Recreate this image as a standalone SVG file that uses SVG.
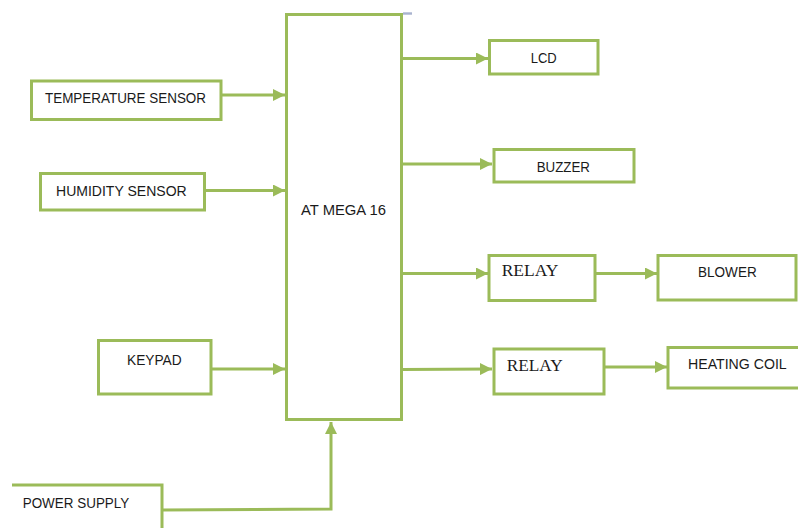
<svg xmlns="http://www.w3.org/2000/svg" width="798" height="528" viewBox="0 0 798 528">
<defs>
<style>
.box{fill:#ffffff;stroke:#9bbb59;stroke-width:3}
.ln{fill:none;stroke:#9bbb59;stroke-width:3}
.t{font-family:"Liberation Sans",Arial,sans-serif;font-size:14px;fill:#1a1a1a}
.s{font-family:"Liberation Serif","Times New Roman",serif;font-size:17px;fill:#1a1a1a}
</style>
<marker id="ah" markerUnits="userSpaceOnUse" markerWidth="12" markerHeight="12" viewBox="0 0 12 12" refX="12" refY="6" orient="auto">
<path d="M0,0 L12,6 L0,12 Z" fill="#9bbb59"/>
</marker>
</defs>
<rect width="798" height="528" fill="#ffffff"/>
<g id="connectors">
<line class="ln" x1="221" y1="95" x2="285" y2="95" marker-end="url(#ah)"/>
<line class="ln" x1="204" y1="190.5" x2="285" y2="190.5" marker-end="url(#ah)"/>
<line class="ln" x1="211" y1="369" x2="285" y2="369" marker-end="url(#ah)"/>
<polyline class="ln" points="162,510 331,509 331,422" marker-end="url(#ah)"/>
<line class="ln" x1="402" y1="58.5" x2="488" y2="58.5" marker-end="url(#ah)"/>
<line class="ln" x1="402" y1="164" x2="492" y2="164" marker-end="url(#ah)"/>
<line class="ln" x1="402" y1="273.5" x2="488" y2="273.5" marker-end="url(#ah)"/>
<line class="ln" x1="402" y1="369.5" x2="492" y2="369" marker-end="url(#ah)"/>
<line class="ln" x1="595" y1="273.5" x2="657" y2="273.5" marker-end="url(#ah)"/>
<line class="ln" x1="604" y1="367" x2="667" y2="367" marker-end="url(#ah)"/>
</g>
<g id="atmega">
<rect class="box" x="286.5" y="14.5" width="115" height="405"/>
<rect x="403" y="12.3" width="9" height="2.4" fill="#a9b3cf"/>
<text class="t" x="301" y="215" textLength="85" lengthAdjust="spacingAndGlyphs">AT MEGA 16</text>
</g>
<g id="temperature">
<rect class="box" x="31.5" y="81" width="189.5" height="38.5"/>
<text class="t" x="45" y="103" textLength="161" lengthAdjust="spacingAndGlyphs">TEMPERATURE SENSOR</text>
</g>
<g id="humidity">
<rect class="box" x="40.5" y="173.5" width="164" height="36.5"/>
<text class="t" x="56" y="196" textLength="130.7" lengthAdjust="spacingAndGlyphs">HUMIDITY SENSOR</text>
</g>
<g id="keypad">
<rect class="box" x="98.5" y="340.5" width="112.5" height="53.5"/>
<text class="t" x="127" y="365" textLength="54.7" lengthAdjust="spacingAndGlyphs">KEYPAD</text>
</g>
<g id="power">
<polyline class="ln" points="12,485 162,485 162,528"/>
<text class="t" x="22.7" y="508" textLength="106.6" lengthAdjust="spacingAndGlyphs">POWER SUPPLY</text>
</g>
<g id="lcd">
<rect class="box" x="489.5" y="40.5" width="108.5" height="33.5"/>
<text class="t" x="530.7" y="63" textLength="26" lengthAdjust="spacingAndGlyphs">LCD</text>
</g>
<g id="buzzer">
<rect class="box" x="494" y="149.5" width="140" height="32.5"/>
<text class="t" x="536.7" y="171.5" textLength="53.3" lengthAdjust="spacingAndGlyphs">BUZZER</text>
</g>
<g id="relay1">
<rect class="box" x="489" y="255.5" width="106" height="45"/>
<text class="s" x="501.7" y="276" textLength="56.6" lengthAdjust="spacingAndGlyphs">RELAY</text>
</g>
<g id="blower">
<rect class="box" x="658" y="255.5" width="138" height="44.5"/>
<text class="t" x="698" y="277" textLength="58.7" lengthAdjust="spacingAndGlyphs">BLOWER</text>
</g>
<g id="relay2">
<rect class="box" x="494" y="349" width="110" height="45"/>
<text class="s" x="506.7" y="371" textLength="56" lengthAdjust="spacingAndGlyphs">RELAY</text>
</g>
<g id="heating">
<rect class="box" x="668" y="347.5" width="140" height="40.5"/>
<text class="t" x="688" y="369" textLength="98.7" lengthAdjust="spacingAndGlyphs">HEATING COIL</text>
</g>
</svg>
